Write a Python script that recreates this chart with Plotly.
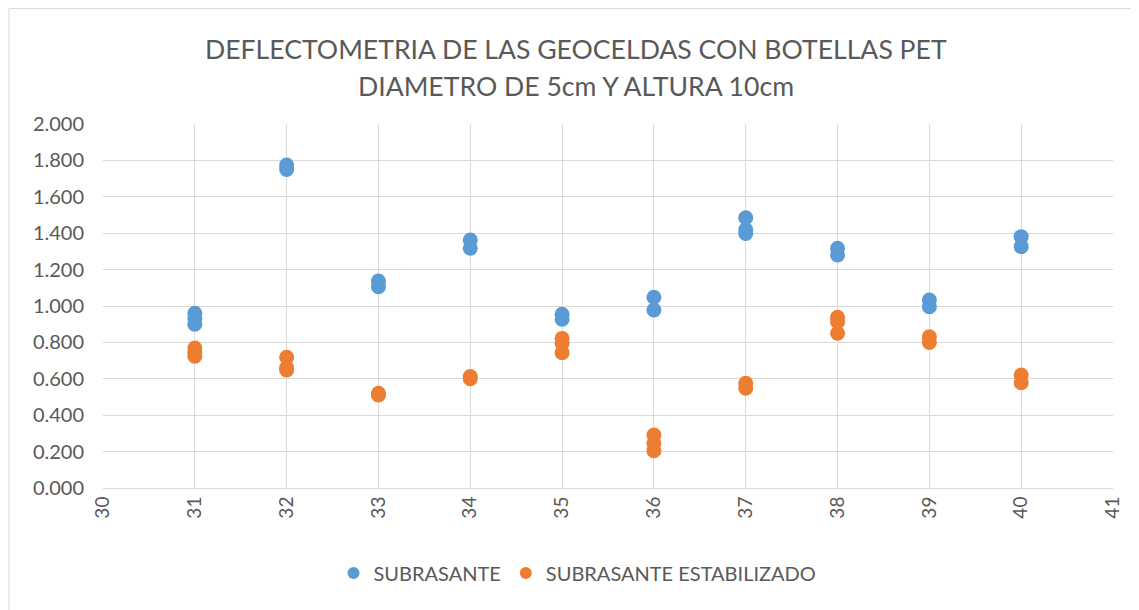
import plotly.graph_objects as go

# Data
x_sub = [31, 31, 31, 32, 32, 33, 33, 34, 34, 35, 35, 36, 36, 37, 37, 37, 38, 38, 39, 39, 40, 40]
y_sub = [0.96, 0.93, 0.90, 1.775, 1.75, 1.137, 1.106, 1.363, 1.317, 0.954, 0.927, 1.048, 0.978,
         1.485, 1.418, 1.399, 1.317, 1.280, 1.033, 0.996, 1.381, 1.326]

x_est = [31, 31, 31, 32, 32, 32, 33, 33, 34, 34, 35, 35, 35, 36, 36, 36, 37, 37, 38, 38, 38, 39, 39, 40, 40]
y_est = [0.769, 0.745, 0.724, 0.718, 0.660, 0.648, 0.520, 0.511, 0.612, 0.600, 0.822, 0.795, 0.743,
         0.291, 0.246, 0.205, 0.575, 0.548, 0.938, 0.914, 0.850, 0.831, 0.800, 0.621, 0.578]

series_names = ["SUBRASANTE", "SUBRASANTE ESTABILIZADO"]
title_lines = ["DEFLECTOMETRIA DE LAS GEOCELDAS CON BOTELLAS PET", "DIAMETRO DE 5cm Y ALTURA 10cm"]
x_ticks = list(range(30, 42))
y_ticks = [0.0, 0.2, 0.4, 0.6, 0.8, 1.0, 1.2, 1.4, 1.6, 1.8, 2.0]

FONT = "Lato, Open Sans, sans-serif"
GREY = "#595959"

# page is offset by the default 8px body margin
L, T, R, B = 95, 116, 34, 130
PW = 1139 - L - R
PH = 610 - T - B


def px_x(fx):
    return (fx - L) / PW


def px_y(fy):
    return 1 + (T - fy) / PH


fig = go.Figure()
fig.add_trace(go.Scatter(x=x_sub, y=y_sub, mode="markers", name=series_names[0],
                         marker=dict(color="#5B9BD5", size=15)))
fig.add_trace(go.Scatter(x=x_est, y=y_est, mode="markers", name=series_names[1],
                         marker=dict(color="#ED7D31", size=15)))

fig.update_layout(
    width=1139, height=610,
    paper_bgcolor="white", plot_bgcolor="white",
    margin=dict(l=L, r=R, t=T, b=B, autoexpand=False),
    font=dict(family=FONT, color=GREY, size=16),
    legend=dict(orientation="h", x=0.5, xanchor="center", xref="container",
                y=1 - 565 / 610, yanchor="middle", yref="container",
                font=dict(family=FONT, size=20, color=GREY), itemsizing="constant",
                itemwidth=30),
    showlegend=True,
)
for i, (line, fy) in enumerate(zip(title_lines, [40.5, 78.5])):
    fig.add_annotation(text=line, xref="paper", yref="paper", x=px_x(568), y=px_y(fy),
                       xanchor="center", yanchor="middle", showarrow=False,
                       font=dict(family=FONT, size=26.6, color=GREY))

fig.update_xaxes(range=[30, 41], tickvals=x_ticks, ticktext=[str(v) for v in x_ticks],
                 tickangle=-90, showgrid=True, gridcolor="#D9D9D9", gridwidth=1,
                 zeroline=False, showline=True, linecolor="#D9D9D9", linewidth=1,
                 ticks="", tickfont=dict(size=19, color=GREY), automargin=False)
fig.update_yaxes(range=[0, 2.0], tickvals=y_ticks, ticktext=[f"{v:.3f}" for v in y_ticks],
                 showgrid=True, gridcolor="#D9D9D9", gridwidth=1, zeroline=False,
                 showline=False, ticks="", tickfont=dict(size=20, color=GREY), automargin=False,
                 ticklabelstandoff=18)

# outer chart border
fig.add_shape(type="rect", xref="paper", yref="paper",
              x0=px_x(1), x1=px_x(1160), y0=px_y(640), y1=px_y(0.5),
              line=dict(color="#D9D9D9", width=1), layer="below")

fig.write_html("out.html")
